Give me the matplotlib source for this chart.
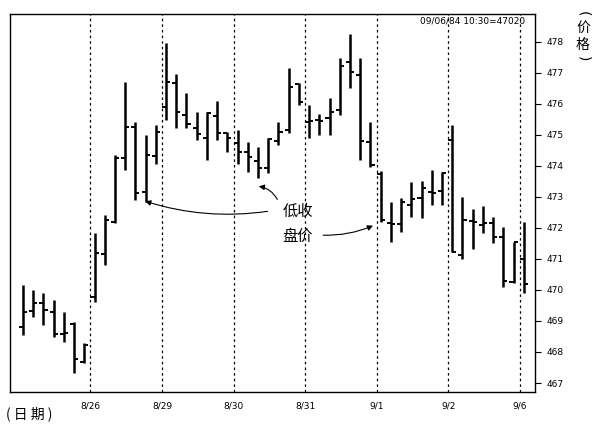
import matplotlib
matplotlib.use("Agg")
import matplotlib.pyplot as plt
import numpy as np

plt.rcParams['font.family'] = ['DejaVu Sans', 'Noto Sans CJK SC']
CJK = ['Noto Sans CJK SC', 'DejaVu Sans']

# hourly bars
opens = [468.80, 469.32, 469.58, 469.29, 468.58, 468.90, 467.68,
         469.77, 471.16, 472.20, 474.26, 475.26, 473.16, 474.32,
         475.90, 476.68, 475.65, 475.23, 474.90, 475.61, 475.06,
         474.74, 474.45, 474.16, 473.94, 474.80, 475.16, 476.65,
         475.42, 475.48, 475.55, 475.80, 477.35, 476.94, 474.77,
         473.74, 472.16, 472.13, 472.74, 472.97, 473.16, 473.19,
         474.84, 471.13, 472.23, 472.10, 472.16, 471.71, 470.26,
         471.00]
highs = [470.16, 470.00, 469.90, 469.68, 469.29, 468.97, 468.29,
         471.84, 472.42, 474.35, 476.71, 475.42, 475.00, 475.32,
         477.97, 476.97, 476.35, 475.74, 475.74, 476.10, 475.10,
         475.16, 474.77, 474.60, 474.90, 475.42, 477.16, 476.68,
         475.97, 475.68, 476.20, 477.48, 478.26, 477.48, 475.42,
         473.84, 472.84, 472.97, 473.48, 473.52, 473.87, 473.81,
         475.32, 473.00, 472.61, 472.71, 472.35, 472.03, 471.55,
         472.19]
lows = [468.55, 469.13, 468.87, 468.48, 468.32, 467.32, 467.65,
        469.61, 470.81, 472.16, 473.87, 472.90, 472.84, 474.06,
        475.48, 475.23, 475.23, 474.84, 474.19, 474.84, 474.45,
        474.06, 473.80, 473.60, 473.77, 474.68, 475.06, 475.97,
        474.90, 475.00, 475.00, 475.65, 476.52, 474.19, 473.97,
        472.19, 471.55, 471.87, 472.35, 472.32, 472.74, 472.74,
        471.23, 471.00, 471.32, 471.84, 471.52, 470.10, 470.23,
        469.90]
closes = [469.29, 469.58, 469.35, 468.58, 468.60, 467.77, 468.23,
          471.19, 472.26, 474.26, 475.26, 473.13, 474.35, 475.10,
          476.71, 475.74, 475.35, 475.03, 475.71, 475.06, 474.90,
          474.45, 474.30, 473.94, 474.87, 475.10, 476.55, 476.06,
          475.45, 475.45, 475.74, 477.23, 477.03, 474.80, 474.03,
          472.26, 472.13, 472.84, 472.94, 473.29, 473.13, 473.77,
          471.23, 472.26, 472.19, 472.16, 471.71, 470.29, 471.55,
          470.20]

dates = ['8/26', '8/29', '8/30', '8/31', '9/1', '9/2', '9/6']
bars_per_day = 7
price_ticks = list(range(467, 479))

fig = plt.figure(figsize=(5.92, 4.29), dpi=100)
ax = fig.add_axes([10/592, 1-392/429, 525/592, 378/429])

x = np.arange(len(closes))
ax.vlines(x, lows, highs, color='black', lw=1.8)
ax.hlines(opens, x-0.4, x, color='black', lw=1.4)
ax.hlines(closes, x, x+0.4, color='black', lw=1.4)

# day separators
day_x = [bars_per_day*(k+1) - 0.4 for k in range(len(dates))]
for dx in day_x:
    ax.axvline(dx, color='black', ls=(0, (2, 2.5)), lw=0.9)

ax.set_xlim(-1.27, 50.1)
ax.set_ylim(466.71, 478.9)

ax.set_xticks(day_x)
ax.set_xticklabels(dates, fontsize=6.5)
ax.tick_params(axis='x', length=0, pad=7)

ax.yaxis.tick_right()
ax.set_yticks(price_ticks)
ax.set_yticklabels([str(p) for p in price_ticks], fontsize=6.5)
ax.tick_params(axis='y', direction='out', length=4, width=0.8, pad=4)

for s in ax.spines.values():
    s.set_linewidth(1.0)

ax.text(0.981, 0.982, '09/06/84 10:30=47020', transform=ax.transAxes,
        ha='right', va='center', fontsize=6.5)

# annotation: low closing price
ax.text(26.9, 472.52, '低收', family=CJK, fontsize=11, ha='center', va='center')
ax.text(26.9, 471.74, '盘价', family=CJK, fontsize=11, ha='center', va='center')
arrow = dict(arrowstyle='-|>', color='black', lw=0.8, mutation_scale=8)
ax.annotate('', xy=(11.7, lows[12] + 0.05), xytext=(24.2, 472.55),
            arrowprops=dict(connectionstyle='arc3,rad=-0.12', **arrow))
ax.annotate('', xy=(22.8, lows[23] - 0.25), xytext=(25.0, 472.84),
            arrowprops=dict(connectionstyle='arc3,rad=0.3', **arrow))
ax.annotate('', xy=(34.5, closes[35] - 0.15), xytext=(29.1, 471.77),
            arrowprops=dict(connectionstyle='arc3,rad=0.12', **arrow))

# vertical axis title (价格) stacked, brackets turned sideways
lx = 583/592
fig.text(lx, 1-14/429, '(', fontsize=10, rotation=-90, ha='center', va='center')
fig.text(lx, 1-28/429, '价', family=CJK, fontsize=10, ha='center', va='center')
fig.text(lx, 1-45/429, '格', family=CJK, fontsize=10, ha='center', va='center')
fig.text(lx, 1-59/429, ')', fontsize=10, rotation=-90, ha='center', va='center')
fig.text(6/592, 1-414/429, '( 日 期 )', family=CJK, fontsize=10,
         ha='left', va='center')

fig.savefig('out.png', dpi=100)
